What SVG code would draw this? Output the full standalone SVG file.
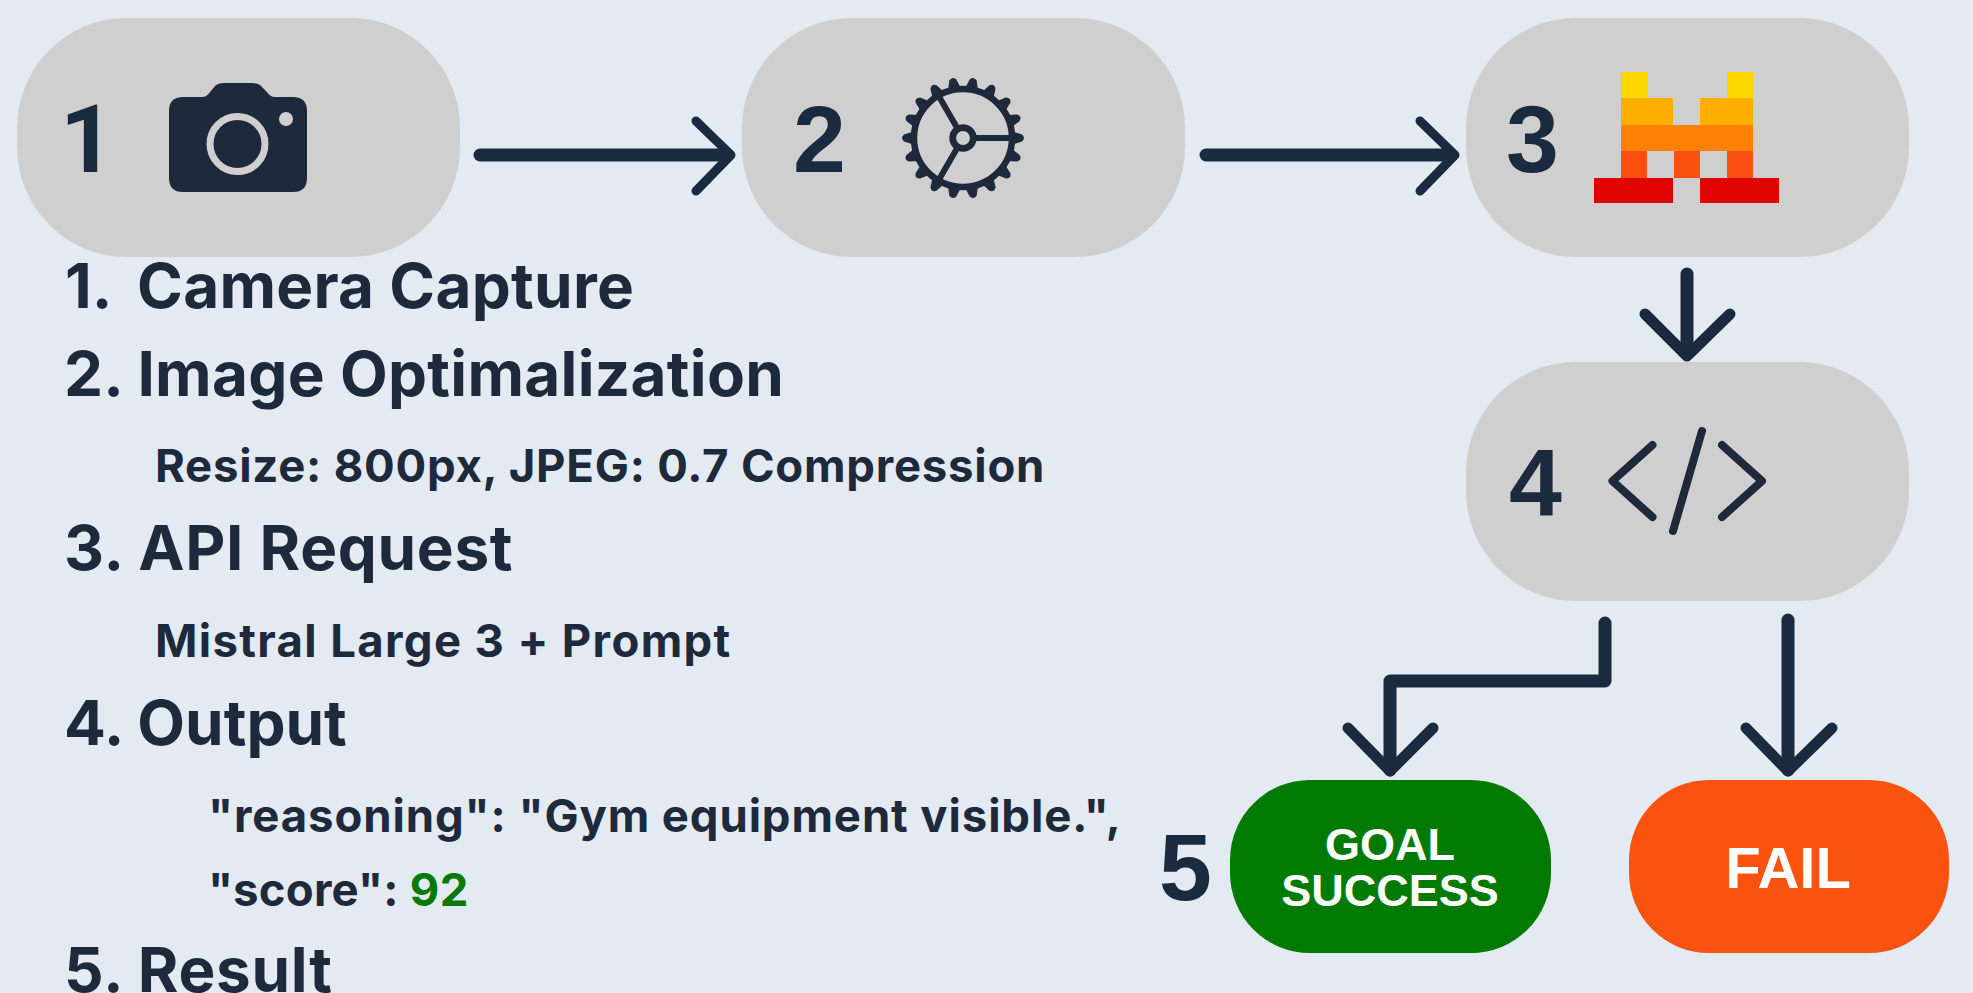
<svg xmlns="http://www.w3.org/2000/svg" width="1973" height="993" viewBox="0 0 1973 993">
<style>
.pill{fill:#cfcfcf}
.num{font-family:"Liberation Sans",Arial,sans-serif;font-weight:700;font-size:95px;fill:#1b2b3f}
.h{font-family:Inter,"Liberation Sans",sans-serif;font-weight:700;font-size:62px;fill:#1e293b}
.s{font-family:Inter,"Liberation Sans",sans-serif;font-weight:700;font-size:45.500px;fill:#1e293b}
.w{font-family:"Liberation Sans",Arial,sans-serif;font-weight:700;fill:#fff;text-anchor:middle}
.shaft{fill:none;stroke:#1b2b3f;stroke-width:13;stroke-linecap:round;stroke-linejoin:round}
.head{fill:none;stroke:#1b2b3f;stroke-width:9;stroke-linecap:round;stroke-linejoin:round}
.vhead{fill:none;stroke:#1b2b3f;stroke-width:11;stroke-linecap:round;stroke-linejoin:round}
.icon{fill:none;stroke:#1e293b;stroke-linecap:round;stroke-linejoin:round}
</style>
<defs>
<path id="tooth" d="M48 -7 L59 -3.500 Q63 0 59 3.500 L48 7 Z" fill="#1e293b"/>
</defs>
<rect width="1973" height="993" fill="#e3eaf2"/>
<g id="connectors">
<path class="shaft" d="M480 155H727"/><path class="head" d="M696 121L731 155L696 191"/>
<path class="shaft" d="M1206 155H1451"/><path class="head" d="M1420 121L1455 155L1420 191"/>
<path class="shaft" d="M1687 274V354"/><path class="vhead" d="M1645 314L1687 356L1730 314"/>
<path class="shaft" d="M1605 623V681H1390V770"/><path class="vhead" d="M1348 728L1390 771L1433 728"/>
<path class="shaft" d="M1788 620V770"/><path class="vhead" d="M1746 728L1788 771L1832 728"/>
</g>
<g id="node1"><rect class="pill" x="17" y="18" width="443" height="239" rx="110"/>
<text class="num" x="60" y="172" style="font-family:Roboto,sans-serif">1</text>
<path id="camera" fill="#1e293b" d="M183 97H202Q207 97 210 92L216 85Q219 83 224 83H252Q257 83 260 85L267 92Q270 97 275 97H293Q307 97 307 111V178Q307 192 293 192H183Q169 192 169 178V111Q169 97 183 97Z"/>
<circle cx="237.500" cy="144" r="27.500" fill="none" stroke="#cfcfcf" stroke-width="7"/>
<circle cx="286" cy="119" r="7" fill="#cfcfcf"/>
</g>
<g id="node2"><rect class="pill" x="742" y="18" width="443" height="239" rx="110"/>
<text class="num" x="793" y="172">2</text>
<g transform="translate(963 138)">
<circle r="49" fill="none" stroke="#1e293b" stroke-width="6.500"/>
<use href="#tooth"/><use href="#tooth" transform="rotate(20)"/><use href="#tooth" transform="rotate(40)"/><use href="#tooth" transform="rotate(60)"/><use href="#tooth" transform="rotate(80)"/><use href="#tooth" transform="rotate(100)"/><use href="#tooth" transform="rotate(120)"/><use href="#tooth" transform="rotate(140)"/><use href="#tooth" transform="rotate(160)"/><use href="#tooth" transform="rotate(180)"/><use href="#tooth" transform="rotate(200)"/><use href="#tooth" transform="rotate(220)"/><use href="#tooth" transform="rotate(240)"/><use href="#tooth" transform="rotate(260)"/><use href="#tooth" transform="rotate(280)"/><use href="#tooth" transform="rotate(300)"/><use href="#tooth" transform="rotate(320)"/><use href="#tooth" transform="rotate(340)"/>
<path d="M13 0H48M-6.500 -11.300L-24 -41.600M-6.500 11.300L-24 41.600" fill="none" stroke="#1e293b" stroke-width="6"/>
<circle r="10.300" fill="none" stroke="#1e293b" stroke-width="6.800"/>
</g></g>
<g id="node3"><rect class="pill" x="1466" y="18" width="443" height="239" rx="110"/>
<text class="num" x="1506" y="172">3</text>
<path fill="#ffd800" d="M1621 72h26v26h-26zM1727 72h26v26h-26z"/>
<path fill="#ffaf00" d="M1621 98h52v27h-52zM1700 98h53v27h-53z"/>
<path fill="#ff8205" d="M1621 125h132v26h-132z"/>
<path fill="#fa500f" d="M1621 151h26v27h-26zM1674 151h26v27h-26zM1727 151h26v27h-26z"/>
<path fill="#e10500" d="M1594 178h79v25h-79zM1700 178h79v25h-79z"/>
</g>
<g id="node4"><rect class="pill" x="1466" y="362" width="443" height="239" rx="110"/>
<text class="num" x="1509" y="515">4</text>
<path class="icon" stroke-width="8" d="M1652.500 445L1612.500 481L1652.500 517M1722 445L1762 481L1722 517M1702 431L1673 531"/>
</g>
<g id="node5a"><rect x="1230" y="780" width="321" height="173" rx="80" fill="#007a00"/>
<text class="w" x="1390" y="860" font-size="45">GOAL</text>
<text class="w" x="1390" y="906" font-size="45">SUCCESS</text>
</g>
<g id="node5b"><rect x="1629" y="780" width="320" height="173" rx="80" fill="#fa520f"/>
<text class="w" x="1788" y="888" font-size="58">FAIL</text>
</g>
<text class="num" x="1159" y="900">5</text>
<g id="legend">
<text class="h" x="65" y="308">1. <tspan x="137" letter-spacing="0.270">Camera Capture</tspan></text>
<text class="h" x="64" y="396" letter-spacing="0.290">2. Image Optimalization</text>
<text class="s" x="155" y="482" letter-spacing="0.770">Resize: 800px, JPEG: 0.7 Compression</text>
<text class="h" x="64" y="570" letter-spacing="0.680">3. API Request</text>
<text class="s" x="155" y="657" letter-spacing="1.360">Mistral Large 3 + Prompt</text>
<text class="h" x="64" y="745">4. Output</text>
<text class="s" x="208" y="832" letter-spacing="0.900">"reasoning": "Gym equipment visible.",</text>
<text class="s" x="208" y="906" letter-spacing="0.250">"score": <tspan fill="#007a00">92</tspan></text>
<text class="h" x="64" y="992" letter-spacing="0.700">5. Result</text>
</g>
</svg>
